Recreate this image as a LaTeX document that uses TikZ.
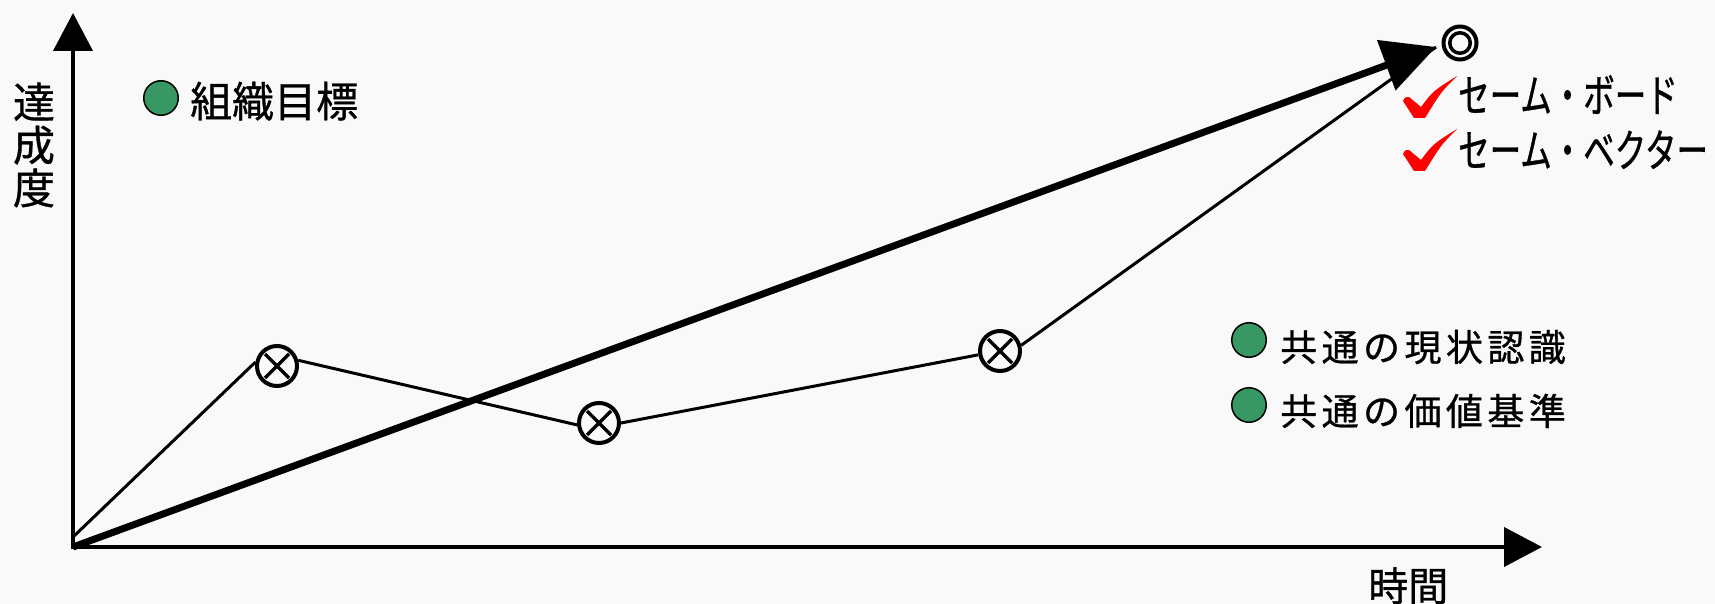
\documentclass[tikz,border=0pt]{standalone}
\usepackage{fontspec}
\setmainfont{Noto Sans CJK JP}[FakeBold=0.8]
\usetikzlibrary{arrows.meta,calc}
\definecolor{bg}{RGB}{249,249,249}
\definecolor{dotgreen}{RGB}{55,152,99}
\begin{document}
\begin{tikzpicture}[x=1pt,y=-1pt,
  axis/.style={line width=4pt,line cap=rect,-{Triangle[length=38pt,width=39pt]}},
  mainarrow/.style={line width=7pt,-{Triangle[length=53pt,width=52pt]}},
  thinline/.style={line width=3pt},
  xmark/.style={circle,draw,fill=bg,line width=4pt,minimum size=40pt,inner sep=0pt},
  gdot/.style={circle,draw=black,fill=dotgreen,line width=1.5pt,minimum size=34.5pt,inner sep=0pt},
  lbl/.style={inner sep=0pt,anchor=base west},
  katafont/.style={font=\fontsize{45pt}{45pt}\selectfont\addfontfeature{FakeStretch=0.7}},
  kanjifont/.style={font=\fontsize{37pt}{37pt}\selectfont\addfontfeature{LetterSpace=12}},
  redcheck/.pic={\fill[red] (0,25) .. controls (2,21) .. (6,21) -- (18,31)
      .. controls (30,15) .. (54,0) .. controls (38,16) .. (22,42) -- (11,42) -- cycle;}
]
\fill[bg] (0,0) rectangle (1715,604);
\useasboundingbox (0,0) rectangle (1715,604);

\coordinate (o) at (73,547);
\coordinate (s) at (73,537);
\coordinate (ytip) at (73,13);
\coordinate (xtip) at (1542,547);
\coordinate (tip) at (1436,47);

\draw[axis] (o) -- (ytip);
\draw[axis] (o) -- (xtip);

\node[xmark] (m1) at (277,366) {};
\node[xmark] (m2) at (599,423) {};
\node[xmark] (m3) at (1000,351) {};
\foreach \m in {m1,m2,m3}{
  \draw[line width=3.5pt] (\m.center) ++(-12,-12) -- ++(24,24);
  \draw[line width=3.5pt] (\m.center) ++(-12,12) -- ++(24,-24);
}

\draw[thinline] (s) -- (m1.170);
\draw[thinline] (m1.15) -- (m2.185);
\draw[thinline] (m2.0) -- (m3.190);
\draw[thinline] (m3.15) -- (tip);
\draw[mainarrow] (o) -- (tip);

\node[circle,draw,line width=4pt,minimum size=33pt,inner sep=0pt] (dc) at (1460,43) {};
\draw[line width=3.5pt] (dc.center) circle[radius=10.25];

\pic at (1403,76) {redcheck};
\pic at (1403,129) {redcheck};

\node[lbl,katafont] (t1) at (1458,112) {セーム・ボード};
\node[lbl,katafont] (t2) at (1458,167) {セーム・ベクター};

\node[gdot] (g1) at (161,98) {};
\node[lbl,font=\fontsize{42pt}{42pt}\selectfont] (goal) at (190,117) {組織目標};

\node[gdot] (g2) at (1249,340) {};
\node[gdot] (g3) at (1249,405) {};
\node[lbl,kanjifont] (s1) at (1280,361) {共通の現状認識};
\node[lbl,kanjifont] (s2) at (1280,425) {共通の価値基準};

\node[inner sep=0pt,align=center,font=\fontsize{42pt}{43pt}\selectfont] (ylab) at (34,145) {達\\成\\度};
\node[lbl,font=\fontsize{40pt}{40pt}\selectfont] (xlab) at (1368,601) {時間};
\end{tikzpicture}
\end{document}
